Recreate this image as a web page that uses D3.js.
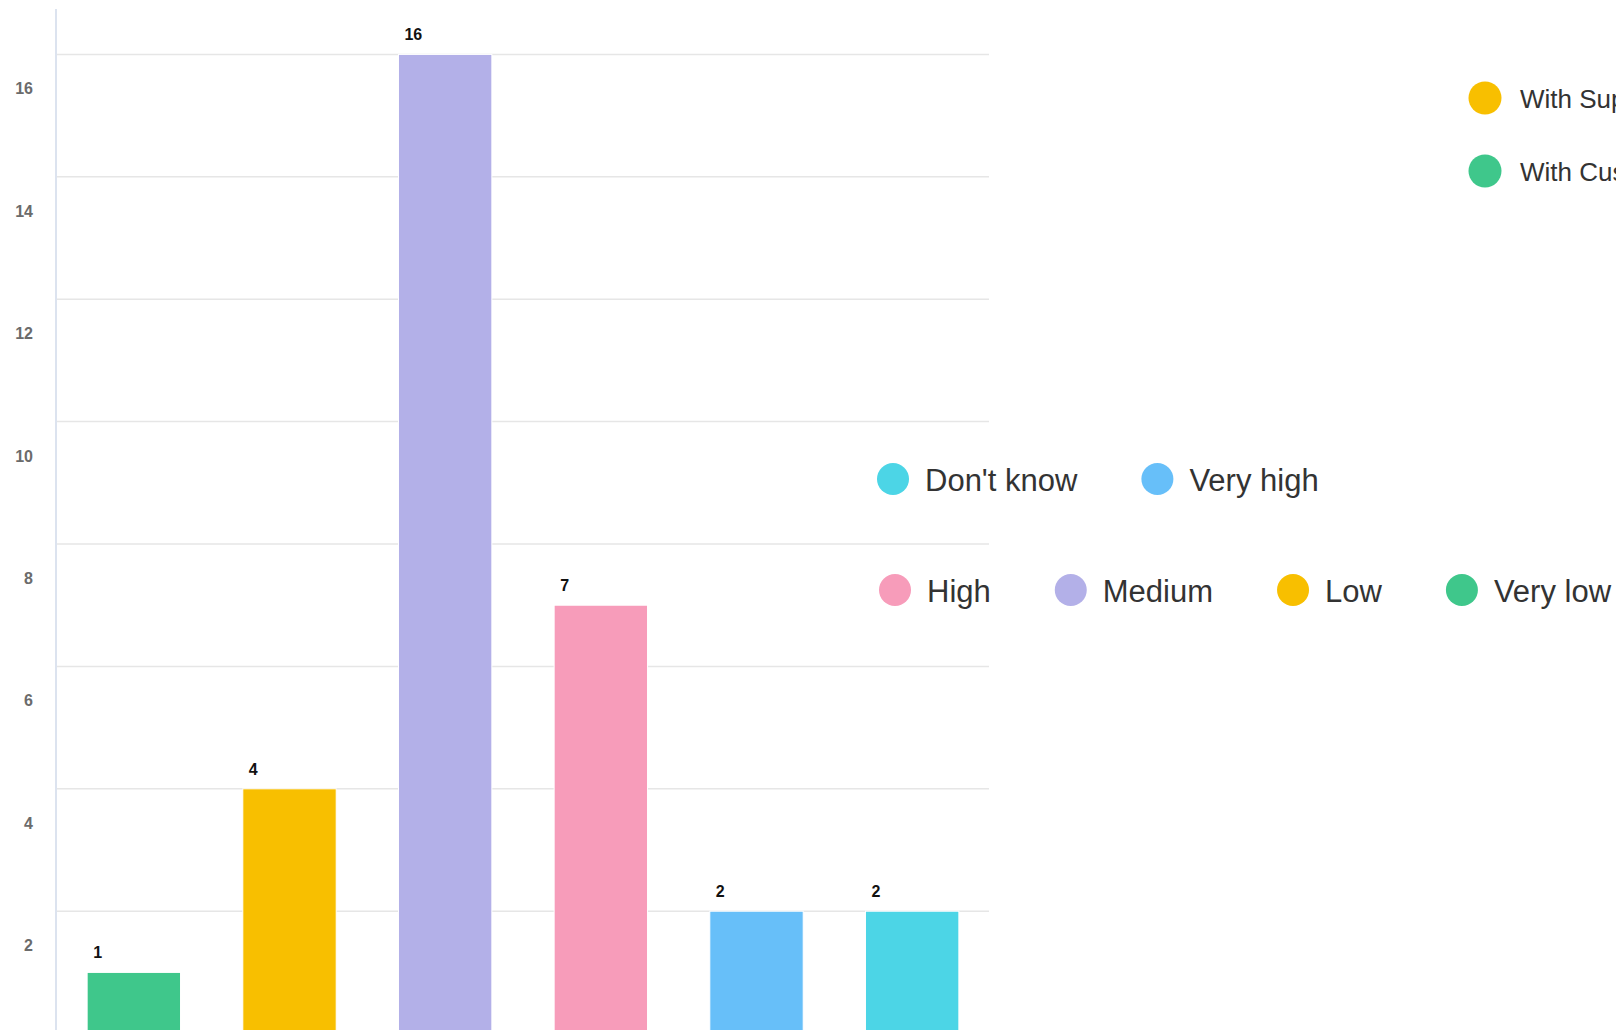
<!DOCTYPE html>
<html>
<head>
<meta charset="utf-8">
<script src="https://cdn.jsdelivr.net/npm/d3@7"></script>
<style>
  html, body { margin: 0; padding: 0; background: #fff; overflow: hidden; }
  svg { display: block; font-family: "Liberation Sans", Arial, Helvetica, sans-serif; }
</style>
</head>
<body>
<svg id="chart" width="1616" height="1030"></svg>
<script>
// ---- data ----
const categories = ["Very low", "Low", "Medium", "High", "Very high", "Don't know"];
const values = [1, 4, 16, 7, 2, 2];
const colors = ["#3fc78b", "#f8bf00", "#b3b0e8", "#f79cba", "#67bff9", "#4cd5e6"];
const yTicks = [2, 4, 6, 8, 10, 12, 14, 16];
const legendRow1 = ["Don't know", "Very high"];
const legendRow2 = ["High", "Medium", "Low", "Very low"];
const topLegend = ["With Supplier", "With Customer"];
const topLegendColors = ["#f8bf00", "#3fc78b"];

const svg = d3.select("#chart");
const colorOf = d3.scaleOrdinal().domain(categories).range(colors);

const x = d3.scaleBand().domain(categories).range([56, 990]).paddingInner(0.40).paddingOuter(0.20);
const y = d3.scaleLinear().domain([0, 16]).range([1033.6, 54.4]);

// gridlines
svg.append("g").selectAll("line").data(yTicks).join("line")
  .attr("x1", 56).attr("x2", 989)
  .attr("y1", d => y(d)).attr("y2", d => y(d))
  .attr("stroke", "#e6e6e6").attr("stroke-width", 1.5);

// y axis line
svg.append("line").attr("x1", 56).attr("x2", 56).attr("y1", 9).attr("y2", 1030)
  .attr("stroke", "#dce3ef").attr("stroke-width", 2);

// y tick labels
svg.append("g").selectAll("text").data(yTicks).join("text")
  .attr("x", 33).attr("y", d => y(d) + 40)
  .attr("text-anchor", "end")
  .attr("font-size", 16).attr("font-weight", "bold").attr("fill", "#6b6b6b")
  .text(d => d);

// bars
svg.append("g").selectAll("rect").data(categories).join("rect")
  .attr("x", d => x(d)).attr("width", x.bandwidth())
  .attr("y", (d, i) => y(values[i])).attr("height", (d, i) => y(0) - y(values[i]))
  .attr("fill", d => colorOf(d))
  .attr("stroke", "#fff").attr("stroke-width", 1);

// value labels
svg.append("g").selectAll("text").data(categories).join("text")
  .attr("x", d => x(d) + 6).attr("y", (d, i) => y(values[i]) - 14)
  .attr("font-size", 16).attr("font-weight", "bold").attr("fill", "#111")
  .text((d, i) => values[i]);

// flowing legend rows
function legendRow(items, startX, cy) {
  let cx = startX;
  const g = svg.append("g");
  items.forEach(name => {
    g.append("circle").attr("cx", cx).attr("cy", cy).attr("r", 16).attr("fill", colorOf(name));
    const t = g.append("text").attr("x", cx + 32).attr("y", cy + 12)
      .attr("font-size", 31).attr("fill", "#333").text(name);
    const w = t.node().getComputedTextLength();
    cx = cx + 32 + w + 80;
  });
}
legendRow(legendRow1, 893, 479);
legendRow(legendRow2, 895, 590);

// top-right legend
const tl = svg.append("g");
tl.selectAll("circle").data(topLegend).join("circle")
  .attr("cx", 1485).attr("cy", (d, i) => 98 + i * 73).attr("r", 16.5)
  .attr("fill", (d, i) => topLegendColors[i]);
tl.selectAll("text").data(topLegend).join("text")
  .attr("x", 1520).attr("y", (d, i) => 108 + i * 73)
  .attr("font-size", 26).attr("fill", "#333")
  .text(d => d);
</script>
</body>
</html>
